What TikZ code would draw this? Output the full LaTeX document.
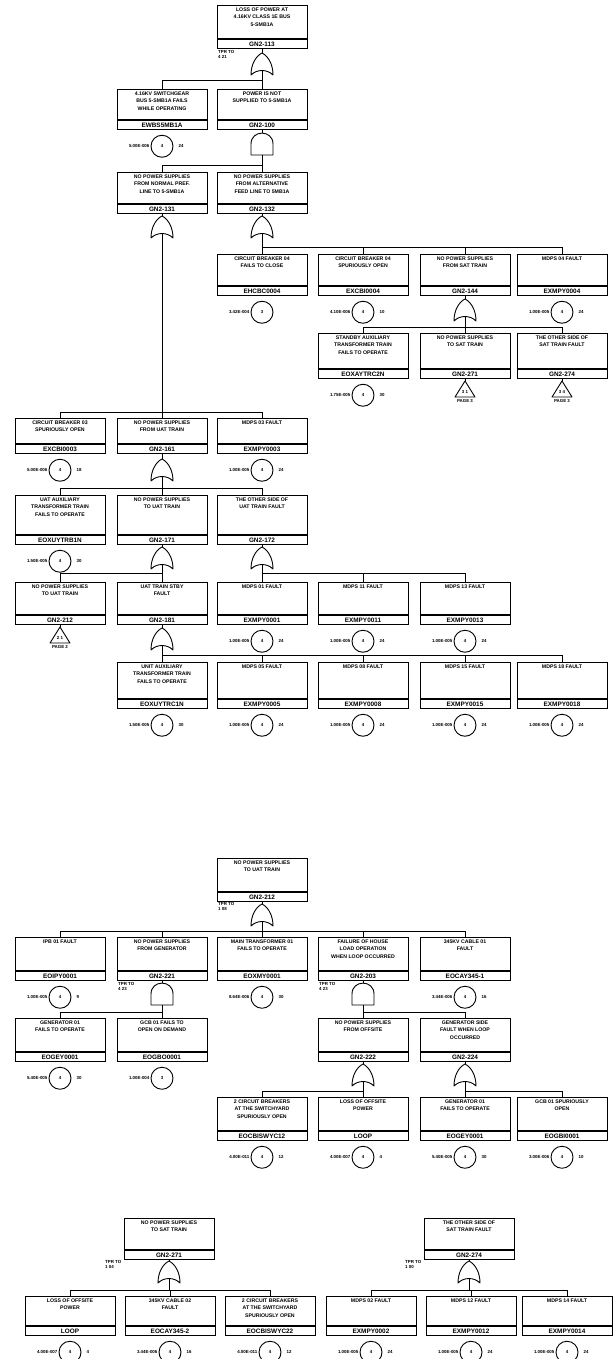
\documentclass[tikz,border=0pt]{standalone}
\usepackage{fontspec}
\setmainfont{Liberation Sans}
\usetikzlibrary{positioning}

\newcommand{\boxfont}{\fontsize{5.2}{7.6}\selectfont\bfseries}
\newcommand{\idfont}{\fontsize{6.4}{7}\selectfont\bfseries}
\newcommand{\smallfont}{\fontsize{4.4}{5.2}\selectfont\bfseries}

\tikzset{
  evtext/.style={draw, line width=0.9pt, anchor=north, minimum width=90pt, inner sep=0pt, font=\boxfont},
  evid/.style={draw, line width=0.9pt, anchor=north, minimum width=90pt, minimum height=9pt, inner sep=0pt, font=\idfont},
  basic/.style={circle, draw, line width=0.9pt, minimum size=22pt, inner sep=0pt, font=\smallfont},
  prob/.style={inner sep=0pt, font=\smallfont},
  gatebody/.style={draw, line width=0.9pt, line join=round},
  wire/.style={line width=0.9pt},
}

% event box: name, x, top, text height, text, id
\newcommand{\fevent}[6]{%
  \node[evtext] (#1) at (#2,#3) {\parbox[t][#4pt][t]{88pt}{\centering\vspace{2pt}#5}};
  \node[evid] (#1id) at (#1.south) {#6};}

% basic event: box name, number, probability, right label
\newcommand{\basicev}[4]{%
  \node[basic, below=5pt of #1id] (#1c) {#2};
  \node[prob, left=1pt of #1c] (#1p) {#3};
  \node[prob, right=5pt of #1c] (#1n) {#4};}

% gates: name, x, top, bus y
\newcommand{\orgate}[4]{%
  \draw[gatebody] (#2-11,#3+22) .. controls (#2-5,#3+16) and (#2+5,#3+16) .. (#2+11,#3+22)
    .. controls (#2+11,#3+11) and (#2+6,#3+3) .. (#2,#3)
    .. controls (#2-6,#3+3) and (#2-11,#3+11) .. (#2-11,#3+22) -- cycle;
  \coordinate (#1in) at (#2,#3);
  \coordinate (#1out) at (#2,#3+17.5);
  \coordinate (#1bus) at (#2,#4);
  \draw[wire] (#1id.south) -- (#1in);
  \draw[wire] (#1out) -- (#1bus);}

\newcommand{\andgate}[4]{%
  \draw[gatebody] (#2-11,#3+22) -- (#2-11,#3+11) .. controls (#2-11,#3-3.5) and (#2+11,#3-3.5) .. (#2+11,#3+11) -- (#2+11,#3+22) -- cycle;
  \coordinate (#1in) at (#2,#3);
  \coordinate (#1out) at (#2,#3+22);
  \coordinate (#1bus) at (#2,#4);
  \draw[wire] (#1id.south) -- (#1in);
  \draw[wire] (#1out) -- (#1bus);}

% transfer: name, x, top, inner text, page
\newcommand{\xfer}[5]{%
  \draw[gatebody] (#2-10,#3+16) -- (#2,#3) -- (#2+10,#3+16) -- cycle;
  \coordinate (#1tri) at (#2,#3);
  \node[prob] (#1tn) at (#2,#3+11) {#4};
  \node[prob] (#1pg) at (#2,#3+20) {PAGE #5};
  \draw[wire] (#1id.south) -- (#1tri);}

% TPR label: name, x, y, value
\newcommand{\tpr}[4]{\node[prob, anchor=north west, align=left] (#1tpr) at (#2,#3) {TPR TO\\#4};}

\begin{document}
\begin{tikzpicture}[x=1pt,y=-1pt]
\fill[white] (0,0) rectangle (613,1359);
\useasboundingbox (0,0) rectangle (613,1359);

% ---- page 1 ----
\fevent{g113}{262}{5}{33}{LOSS OF POWER AT\\4.16KV CLASS 1E BUS\\5-SMB1A}{GN2-113}
\tpr{g113}{218}{50}{4 21}
\orgate{g113}{262}{53}{80}

\fevent{ewbs}{162}{89}{30}{4.16KV SWITCHGEAR\\BUS 5-SMB1A FAILS\\WHILE OPERATING}{EWBS5MB1A}
\basicev{ewbs}{4}{5.00E-006}{24}
\fevent{g100}{262}{89}{30}{POWER IS NOT\\SUPPLIED TO 5-SMB1A}{GN2-100}
\draw[wire] (g113bus) -| (ewbs.north);
\draw[wire] (g113bus) -| (g100.north);
\andgate{g100}{262}{133}{165}

\fevent{g131}{162}{172}{31}{NO POWER SUPPLIES\\FROM NORMAL PREF.\\LINE TO 5-SMB1A}{GN2-131}
\fevent{g132}{262}{172}{31}{NO POWER SUPPLIES\\FROM ALTERNATIVE\\FEED LINE TO 5MB1A}{GN2-132}
\draw[wire] (g100bus) -| (g131.north);
\draw[wire] (g100bus) -| (g132.north);
\orgate{g131}{162}{216}{412}
\orgate{g132}{262}{216}{247}

\fevent{ehcbc4}{262}{254}{31}{CIRCUIT BREAKER 04\\FAILS TO CLOSE}{EHCBC0004}
\basicev{ehcbc4}{3}{3.42E-004}{}
\fevent{excbi4}{363}{254}{31}{CIRCUIT BREAKER 04\\SPURIOUSLY OPEN}{EXCBI0004}
\basicev{excbi4}{4}{4.10E-006}{10}
\fevent{g144}{465}{254}{31}{NO POWER SUPPLIES\\FROM SAT TRAIN}{GN2-144}
\fevent{exmpy4}{562}{254}{31}{MDPS 04 FAULT}{EXMPY0004}
\basicev{exmpy4}{4}{1.00E-005}{24}
\foreach \c in {ehcbc4,excbi4,g144,exmpy4} {\draw[wire] (g132bus) -| (\c.north);}
\orgate{g144}{465}{299}{327}

\fevent{eoxay}{363}{333}{35}{STANDBY AUXILIARY\\TRANSFORMER TRAIN\\FAILS TO OPERATE}{EOXAYTRC2N}
\basicev{eoxay}{4}{1.75E-005}{30}
\fevent{g271a}{465}{333}{35}{NO POWER SUPPLIES\\TO SAT TRAIN}{GN2-271}
\xfer{g271a}{465}{381}{3 1}{3}
\fevent{g274a}{562}{333}{35}{THE OTHER SIDE OF\\SAT TRAIN FAULT}{GN2-274}
\xfer{g274a}{562}{381}{3 4}{3}
\foreach \c in {eoxay,g271a,g274a} {\draw[wire] (g144bus) -| (\c.north);}

\fevent{excbi3}{60}{418}{25}{CIRCUIT BREAKER 03\\SPURIOUSLY OPEN}{EXCBI0003}
\basicev{excbi3}{4}{5.00E-006}{18}
\fevent{g161}{162}{418}{25}{NO POWER SUPPLIES\\FROM UAT TRAIN}{GN2-161}
\fevent{exmpy3}{262}{418}{25}{MDPS 03 FAULT}{EXMPY0003}
\basicev{exmpy3}{4}{1.00E-005}{24}
\foreach \c in {excbi3,g161,exmpy3} {\draw[wire] (g131bus) -| (\c.north);}
\orgate{g161}{162}{459}{488}

\fevent{eoxuyb}{60}{495}{39}{UAT AUXILIARY\\TRANSFORMER TRAIN\\FAILS TO OPERATE}{EOXUYTRB1N}
\basicev{eoxuyb}{4}{1.50E-005}{30}
\fevent{g171}{162}{495}{39}{NO POWER SUPPLIES\\TO UAT TRAIN}{GN2-171}
\fevent{g172}{262}{495}{39}{THE OTHER SIDE OF\\UAT TRAIN FAULT}{GN2-172}
\foreach \c in {eoxuyb,g171,g172} {\draw[wire] (g161bus) -| (\c.north);}
\orgate{g171}{162}{547}{573}
\orgate{g172}{262}{547}{573}

\fevent{g212a}{60}{582}{32}{NO POWER SUPPLIES\\TO UAT TRAIN}{GN2-212}
\xfer{g212a}{60}{627}{2 1}{2}
\fevent{g181}{162}{582}{32}{UAT TRAIN STBY\\FAULT}{GN2-181}
\foreach \c in {g212a,g181} {\draw[wire] (g171bus) -| (\c.north);}
\fevent{exmpy1}{262}{582}{32}{MDPS 01 FAULT}{EXMPY0001}
\basicev{exmpy1}{4}{1.00E-005}{24}
\fevent{exmpy11}{363}{582}{32}{MDPS 11 FAULT}{EXMPY0011}
\basicev{exmpy11}{4}{1.00E-005}{24}
\fevent{exmpy13}{465}{582}{32}{MDPS 13 FAULT}{EXMPY0013}
\basicev{exmpy13}{4}{1.00E-005}{24}
\foreach \c in {exmpy1,exmpy11,exmpy13} {\draw[wire] (g172bus) -| (\c.north);}
\orgate{g181}{162}{628}{655}

\fevent{eoxuyc}{162}{662}{36}{UNIT AUXILIARY\\TRANSFORMER TRAIN\\FAILS TO OPERATE}{EOXUYTRC1N}
\basicev{eoxuyc}{4}{1.50E-005}{30}
\fevent{exmpy5}{262}{662}{36}{MDPS 05 FAULT}{EXMPY0005}
\basicev{exmpy5}{4}{1.00E-005}{24}
\fevent{exmpy8}{363}{662}{36}{MDPS 08 FAULT}{EXMPY0008}
\basicev{exmpy8}{4}{1.00E-005}{24}
\fevent{exmpy15}{465}{662}{36}{MDPS 15 FAULT}{EXMPY0015}
\basicev{exmpy15}{4}{1.00E-005}{24}
\fevent{exmpy18}{562}{662}{36}{MDPS 18 FAULT}{EXMPY0018}
\basicev{exmpy18}{4}{1.00E-005}{24}
\foreach \c in {eoxuyc,exmpy5,exmpy8,exmpy15,exmpy18} {\draw[wire] (g181bus) -| (\c.north);}

% ---- page 2 ----
\fevent{g212}{262}{858}{33}{NO POWER SUPPLIES\\TO UAT TRAIN}{GN2-212}
\tpr{g212}{218}{902}{1 08}
\orgate{g212}{262}{904}{931}

\fevent{eoipy}{60}{937}{33}{IPB 01 FAULT}{EOIPY0001}
\basicev{eoipy}{4}{1.00E-005}{9}
\fevent{g221}{162}{937}{33}{NO POWER SUPPLIES\\FROM GENERATOR}{GN2-221}
\tpr{g221}{118}{982}{4 23}
\fevent{eoxmy}{262}{937}{33}{MAIN TRANSFORMER 01\\FAILS TO OPERATE}{EOXMY0001}
\basicev{eoxmy}{4}{8.64E-006}{30}
\fevent{g203}{363}{937}{33}{FAILURE OF HOUSE\\LOAD OPERATION\\WHEN LOOP OCCURRED}{GN2-203}
\tpr{g203}{319}{982}{4 23}
\fevent{eocay1}{465}{937}{33}{345KV CABLE 01\\FAULT}{EOCAY345-1}
\basicev{eocay1}{4}{3.44E-006}{16}
\foreach \c in {eoipy,g221,eoxmy,g203,eocay1} {\draw[wire] (g212bus) -| (\c.north);}
\andgate{g221}{162}{983}{1012}
\andgate{g203}{363}{983}{1012}

\fevent{eogey}{60}{1018}{33}{GENERATOR 01\\FAILS TO OPERATE}{EOGEY0001}
\basicev{eogey}{4}{5.40E-005}{30}
\fevent{eogbo}{162}{1018}{33}{GCB 01 FAILS TO\\OPEN ON DEMAND}{EOGBO0001}
\basicev{eogbo}{3}{1.00E-004}{}
\foreach \c in {eogey,eogbo} {\draw[wire] (g221bus) -| (\c.north);}

\fevent{g222}{363}{1018}{33}{NO POWER SUPPLIES\\FROM OFFSITE}{GN2-222}
\fevent{g224}{465}{1018}{33}{GENERATOR SIDE\\FAULT WHEN LOOP\\OCCURRED}{GN2-224}
\foreach \c in {g222,g224} {\draw[wire] (g203bus) -| (\c.north);}
\orgate{g222}{363}{1064}{1091}
\orgate{g224}{465}{1064}{1091}

\fevent{eocbis1}{262}{1097}{33}{2 CIRCUIT BREAKERS\\AT THE SWITCHYARD\\SPURIOUSLY OPEN}{EOCBISWYC12}
\basicev{eocbis1}{4}{4.00E-011}{12}
\fevent{loopa}{363}{1097}{33}{LOSS OF OFFSITE\\POWER}{LOOP}
\basicev{loopa}{4}{4.00E-007}{4}
\foreach \c in {eocbis1,loopa} {\draw[wire] (g222bus) -| (\c.north);}
\fevent{eogeyb}{465}{1097}{33}{GENERATOR 01\\FAILS TO OPERATE}{EOGEY0001}
\basicev{eogeyb}{4}{5.40E-005}{30}
\fevent{eogbi}{562}{1097}{33}{GCB 01 SPURIOUSLY\\OPEN}{EOGBI0001}
\basicev{eogbi}{4}{3.00E-006}{10}
\foreach \c in {eogeyb,eogbi} {\draw[wire] (g224bus) -| (\c.north);}

% ---- page 3 ----
\fevent{g271}{169}{1218}{31}{NO POWER SUPPLIES\\TO SAT TRAIN}{GN2-271}
\tpr{g271}{105}{1260}{1 04}
\orgate{g271}{169}{1261}{1290}
\fevent{loopb}{70}{1296}{29}{LOSS OF OFFSITE\\POWER}{LOOP}
\basicev{loopb}{4}{4.00E-007}{4}
\fevent{eocay2}{170}{1296}{29}{345KV CABLE 02\\FAULT}{EOCAY345-2}
\basicev{eocay2}{4}{3.44E-006}{16}
\fevent{eocbis2}{270}{1296}{29}{2 CIRCUIT BREAKERS\\AT THE SWITCHYARD\\SPURIOUSLY OPEN}{EOCBISWYC22}
\basicev{eocbis2}{4}{4.00E-011}{12}
\foreach \c in {loopb,eocay2,eocbis2} {\draw[wire] (g271bus) -| (\c.north);}

\fevent{g274}{469}{1218}{31}{THE OTHER SIDE OF\\SAT TRAIN FAULT}{GN2-274}
\tpr{g274}{405}{1260}{1 00}
\orgate{g274}{469}{1261}{1290}
\fevent{exmpy2}{371}{1296}{29}{MDPS 02 FAULT}{EXMPY0002}
\basicev{exmpy2}{4}{1.00E-005}{24}
\fevent{exmpy12}{471}{1296}{29}{MDPS 12 FAULT}{EXMPY0012}
\basicev{exmpy12}{4}{1.00E-005}{24}
\fevent{exmpy14}{567}{1296}{29}{MDPS 14 FAULT}{EXMPY0014}
\basicev{exmpy14}{4}{1.00E-005}{24}
\foreach \c in {exmpy2,exmpy12,exmpy14} {\draw[wire] (g274bus) -| (\c.north);}

\end{tikzpicture}
\end{document}
